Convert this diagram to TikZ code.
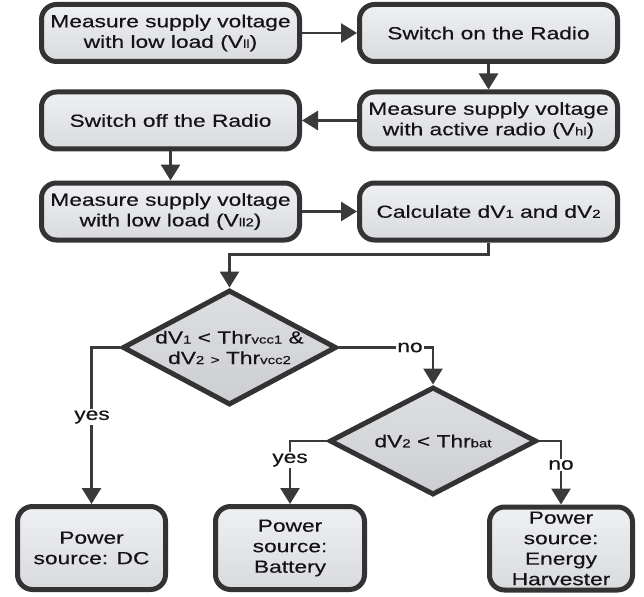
\documentclass[tikz,border=0pt]{standalone}
\usepackage{fontspec}
\setmainfont{Liberation Sans}[FakeStretch=1.3,FakeBold=0.4]
\usetikzlibrary{arrows.meta,shapes.geometric}
\definecolor{bordc}{HTML}{333333}
\definecolor{connc}{HTML}{3A3A3A}
\definecolor{boxtop}{HTML}{EEF0F3}
\definecolor{boxbot}{HTML}{D8DADE}
\definecolor{dtop}{HTML}{DEDFE2}
\definecolor{dbot}{HTML}{CDCED1}
\definecolor{txtc}{HTML}{141414}
\newcommand{\smtxt}[1]{{\fontsize{11.5}{11.5}\selectfont #1}}
\begin{document}
\begin{tikzpicture}[x=1pt,y=-1pt,
  mainfont/.style={font=\fontsize{17.5}{20.5}\selectfont},
  box/.style={draw=bordc, line width=5pt, rounded corners=15pt,
    top color=boxtop, bottom color=boxbot, align=center, inner sep=0pt,
    text=txtc, mainfont},
  topbox/.style={box, minimum width=258pt, minimum height=57pt},
  endbox/.style={box, minimum height=83pt},
  decision/.style={diamond, draw=bordc, line width=5pt, inner sep=0pt,
    top color=dtop, bottom color=dbot},
  dtext/.style={align=center, inner sep=0pt, text=txtc, mainfont},
  conn/.style={draw=connc, line width=2.8pt,
    -{Triangle[length=16pt,width=19pt]}},
  lbl/.style={fill=white, inner sep=1.5pt, text=txtc, mainfont}]
\useasboundingbox (0,0) rectangle (644,596);
\fill[white] (0,0) rectangle (644,596);

\node[topbox] (b1) at (170.5,33) {Measure supply voltage\\with low load (V\smtxt{ll})};
\node[topbox] (b2) at (488.5,33) {Switch on the Radio};
\node[topbox] (b3) at (488.5,120.5) {Measure supply voltage\\with active radio (V\smtxt{hl})};
\node[topbox] (b4) at (170.5,120.5) {Switch off the Radio};
\node[topbox] (b5) at (170.5,211.5) {Measure supply voltage\\with low load (V\smtxt{ll2})};
\node[topbox] (b6) at (488.5,211.5) {Calculate dV\smtxt{1} and dV\smtxt{2}};

\node[decision, minimum width=214pt, minimum height=115pt] (d1) at (229.5,347.5) {};
\node[dtext] (d1t) at (d1) {dV\smtxt{1} < Thr\smtxt{vcc1} \&\\dV\smtxt{2} {\fontsize{12}{12}\selectfont >} Thr\smtxt{vcc2}};
\node[decision, minimum width=207pt, minimum height=108pt] (d2) at (433,441) {};
\node[dtext] (d2t) at (d2) {dV\smtxt{2} < Thr\smtxt{bat}};

\node[endbox, minimum width=148pt] (dc) at (91.5,548) {Power\\source: DC};
\node[endbox, minimum width=149pt] (bat) at (290,548) {Power\\source:\\Battery};
\node[endbox, minimum width=143pt] (eh) at (561,548.5) {Power\\source:\\Energy\\Harvester};

\draw[conn] (b1.east) -- (b2.west);
\draw[conn] (b2.south) -- (b3.north);
\draw[conn] (b3.west) -- (b4.east);
\draw[conn] (b4.south) -- (b5.north);
\draw[conn] (b5.east) -- (b6.west);
\draw[conn] (b6.south) -- ++(0,12) -| (d1.north);
\draw[conn] (d1.west) -| (dc.north);
\draw[conn] (d1.east) -| (d2.north);
\draw[conn] (d2.west) -| (bat.north);
\draw[conn] (d2.east) -| (eh.north);

\node[lbl] (l1) at (92,417) {yes};
\node[lbl] (l2) at (410,347.5) {no};
\node[lbl] (l3) at (290,460) {yes};
\node[lbl] (l4) at (561,465) {no};
\end{tikzpicture}
\end{document}
